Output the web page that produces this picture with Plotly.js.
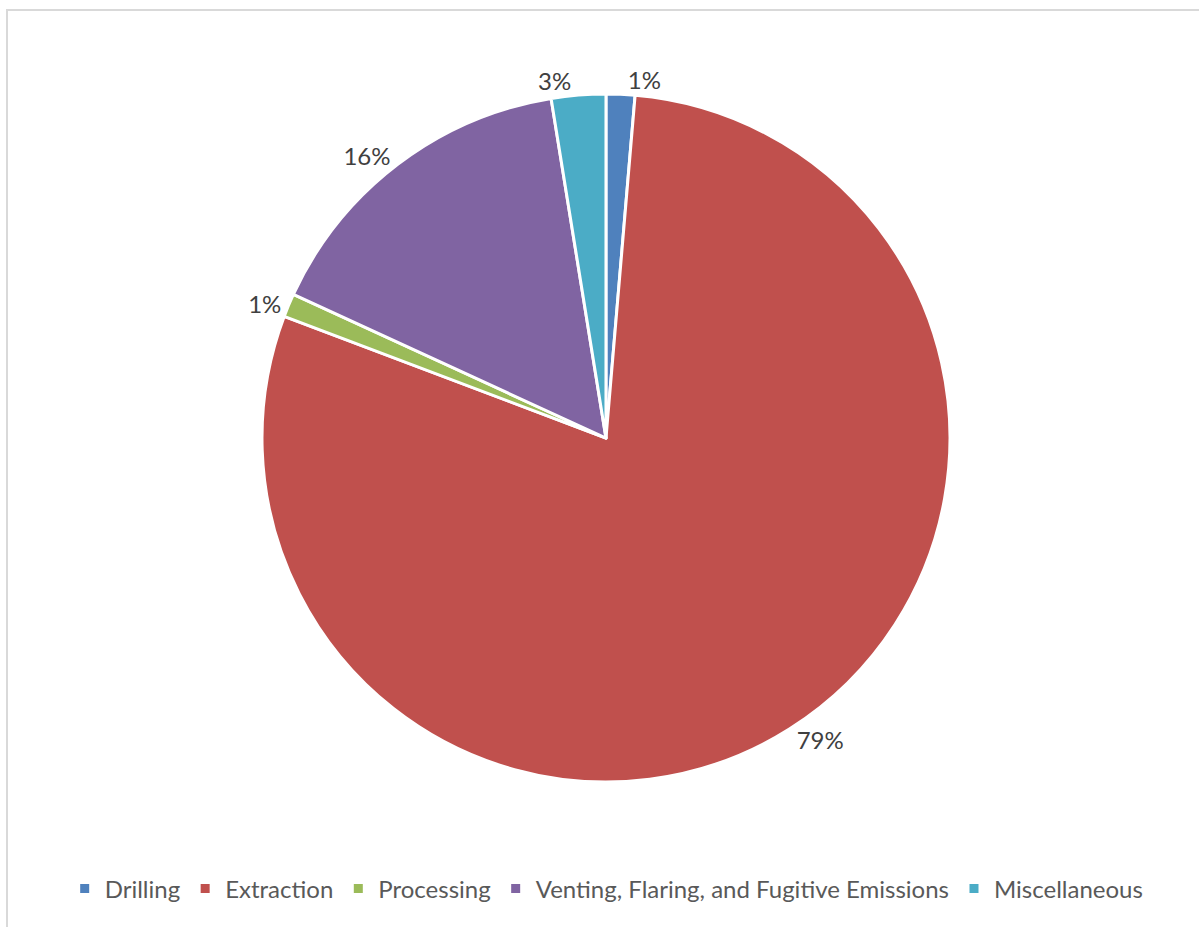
<!DOCTYPE html>
<html>
<head>
<meta charset="utf-8">
<script src="https://cdn.plot.ly/plotly-3.0.1.min.js"></script>
<style>
  html, body { margin: 0; padding: 0; background: #ffffff; overflow: hidden; }
  #chart { position: absolute; left: 0; top: 0; width: 1199px; height: 927px; }
  #frame { position: absolute; left: 6px; top: 9px; width: 1300px; height: 1000px;
           border-left: 2px solid #d9d9d9; border-top: 2px solid #d9d9d9; pointer-events: none; }
</style>
</head>
<body>
<div id="chart"></div>
<div id="frame"></div>
<script>
const categories = ["Drilling", "Extraction", "Processing", "Venting, Flaring, and Fugitive Emissions", "Miscellaneous"];
const shares = [1.35, 79.4, 1.1, 15.6, 2.55];
const colors = ["#4F81BD", "#C0504D", "#9BBB59", "#8064A2", "#4BACC6"];

const trace = {
  type: "pie",
  labels: categories,
  values: shares,
  sort: false,
  direction: "clockwise",
  rotation: 0,
  marker: { colors: colors, line: { color: "#ffffff", width: 3 } },
  textposition: "outside",
  texttemplate: "%{percent:.0%}",
  outsidetextfont: { family: "Lato, 'Open Sans', sans-serif", size: 24, color: "#404040" },
  hoverinfo: "label+percent",
  domain: { x: [0.2185, 0.7923], y: [0.1564, 0.8986] }
};

const layout = {
  width: 1199,
  height: 927,
  margin: { l: 0, r: 0, t: 0, b: 0 },
  paper_bgcolor: "#ffffff",
  showlegend: true,
  legend: {
    orientation: "h",
    x: 0.506, xanchor: "center",
    y: 0.041, yanchor: "middle",
    font: { family: "Lato, 'Open Sans', sans-serif", size: 24, color: "#595959" },
    itemwidth: 30,
    traceorder: "normal"
  }
};

Plotly.newPlot("chart", [trace], layout, { staticPlot: true });
</script>
</body>
</html>
